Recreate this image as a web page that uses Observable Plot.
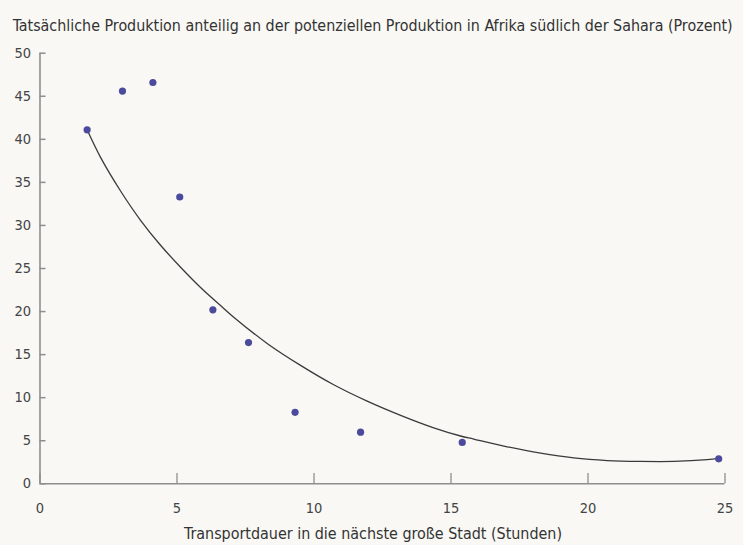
<!DOCTYPE html>
<html><head><meta charset="utf-8">
<script src="https://cdn.jsdelivr.net/npm/d3@7"></script>
<script src="https://cdn.jsdelivr.net/npm/@observablehq/plot@0.6"></script>
<style>
body{margin:0;background:#f9f8f4;}
#chart{width:743px;height:545px;}
svg{display:block;}
</style></head>
<body><div id="chart"></div>
<script>
const titleText = "Tatsächliche Produktion anteilig an der potenziellen Produktion in Afrika südlich der Sahara (Prozent)";
const xLabelText = "Transportdauer in die nächste große Stadt (Stunden)";
const xTicks = [0, 5, 10, 15, 20, 25];
const yTicks = [0, 5, 10, 15, 20, 25, 30, 35, 40, 45, 50];
// observed points
const hours = [1.72, 3.01, 4.12, 5.10, 6.31, 7.61, 9.31, 11.70, 15.41, 24.77];
const share = [41.1, 45.6, 46.6, 33.3, 20.2, 16.4, 8.3, 6.0, 4.8, 2.9];
// trend curve
const curveX = [1.72, 2.21, 2.94, 3.67, 4.40, 5.13, 5.86, 6.59, 7.07, 8.29, 9.51, 10.72, 11.94, 13.16, 14.37, 15.35, 15.83, 17.05, 18.27, 19.48, 20.70, 21.92, 23.13, 24.35, 24.77];
const curveY = [41.1, 37.9, 34.0, 30.6, 27.7, 25.15, 22.8, 20.7, 19.35, 16.3, 13.75, 11.5, 9.6, 7.95, 6.5, 5.55, 5.2, 4.3, 3.55, 3.0, 2.7, 2.6, 2.6, 2.8, 2.95];

const points = hours.map((h, i) => ({x: h, y: share[i]}));
const curve = curveX.map((h, i) => ({x: h, y: curveY[i]}));

const FONT = '"DejaVu Sans Condensed","Liberation Sans Narrow","Roboto",sans-serif';
const axisColor = "#8e8e8e";

const plot = Plot.plot({
  width: 743,
  height: 545,
  marginTop: 52.7,
  marginBottom: 61.7,
  marginLeft: 39.5,
  marginRight: 18.5,
  style: {background: "transparent", fontFamily: FONT, color: "#444"},
  x: {domain: [0, 25]},
  y: {domain: [0, 50]},
  marks: [
    Plot.axisX({ticks: xTicks, tickSize: 0, tickPadding: 19, fontSize: 14.5, label: null, fill: "#444"}),
    Plot.axisY({ticks: yTicks, tickSize: 0, tickPadding: 9, fontSize: 14.5, label: null, fill: "#444"}),
    Plot.ruleY(yTicks, {x1: 0, x2: 0.22, stroke: axisColor, strokeWidth: 1.5}),
    Plot.ruleX(xTicks, {y1: 0, y2: 1.2, stroke: axisColor, strokeWidth: 1.3}),
    Plot.ruleX([0], {y1: 0, y2: 50, stroke: axisColor, strokeWidth: 1.6}),
    Plot.ruleY([0], {x1: 0, x2: 25, stroke: axisColor, strokeWidth: 1.6}),
    Plot.line(curve, {x: "x", y: "y", curve: "catmull-rom", stroke: "#3a3a3a", strokeWidth: 1.3}),
    Plot.dot(points, {x: "x", y: "y", r: 3.6, fill: "#4b4a9d", stroke: "none"})
  ]
});

document.getElementById("chart").appendChild(plot);

const svg = d3.select(plot);
svg.append("text")
  .attr("x", 12.7).attr("y", 31)
  .attr("text-anchor", "start")
  .attr("textLength", 720).attr("lengthAdjust", "spacingAndGlyphs")
  .attr("fill", "#333").attr("font-size", 15).attr("font-family", FONT)
  .text(titleText);
svg.append("text")
  .attr("x", 184).attr("y", 538.5)
  .attr("text-anchor", "start")
  .attr("textLength", 378).attr("lengthAdjust", "spacingAndGlyphs")
  .attr("fill", "#333").attr("font-size", 16).attr("font-family", FONT)
  .text(xLabelText);
</script>
</body></html>
